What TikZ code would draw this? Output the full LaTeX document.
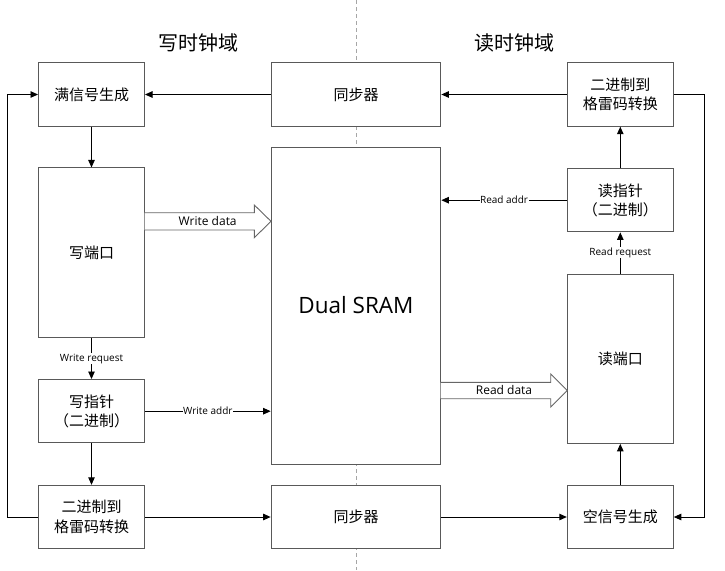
\documentclass[tikz,border=0pt]{standalone}
\usepackage{fontspec}
\setmainfont{Open Sans}
\newfontfamily\cjk{Noto Sans CJK SC}
\usetikzlibrary{arrows.meta}

\begin{document}
\begin{tikzpicture}[x=1pt, y=-1pt,
    box/.style={draw=black!65, line width=1pt, fill=white, inner sep=0pt, align=center,
        minimum width=106pt, minimum height=63.4pt, font=\cjk\fontsize{15}{19.5}\selectfont},
    wide/.style={box, minimum width=169.7pt},
    arr/.style={line width=0.9pt, -{Triangle[length=7.5pt, width=6.5pt]}},
    lbl/.style={fill=white, inner sep=0.5pt, font=\fontsize{10}{12}\selectfont},
    fat/.style={draw=black!60, line width=0.9pt, fill=white},
    title/.style={font=\cjk\fontsize{20}{24}\selectfont}]

    \useasboundingbox (0,0) rectangle (725,570);

    \draw[dash pattern=on 4pt off 3pt, black!35, line width=0.9pt] (356,0) -- (356,570);

    \node[title] (wclk) at (198,43) {写时钟域};
    \node[title] (rclk) at (514.5,43) {读时钟域};

    \node[box] (full) at (91.5,94.5) {满信号生成};
    \node[box, minimum height=169.7pt] (wport) at (91.5,252.8) {写端口};
    \node[box] (wptr) at (91.5,411.2) {写指针\\（二进制）};
    \node[box] (wgray) at (91.5,517) {二进制到\\格雷码转换};

    \node[wide] (sync1) at (356,94.5) {同步器};
    \node[wide, minimum height=317pt, font=\fontsize{22.5}{26}\selectfont] (sram) at (356,305.5) {Dual SRAM};
    \node[wide] (sync2) at (356,517) {同步器};

    \node[box] (rgray) at (620.3,94.5) {二进制到\\格雷码转换};
    \node[box] (rptr) at (620.3,200.2) {读指针\\（二进制）};
    \node[box, minimum height=169.3pt] (rport) at (620.3,358.7) {读端口};
    \node[box] (empty) at (620.3,517) {空信号生成};

    \coordinate (lloop) at (7,517);
    \coordinate (rloop) at (704.7,94.5);

    \draw[fat] (144.5,212.7) -- (254.3,212.7) -- (254.3,205) -- (271,221.3)
        -- (254.3,237.7) -- (254.3,230) -- (144.5,230);
    \node[font=\fontsize{12}{14}\selectfont, inner sep=0pt] (wdata) at (207.7,220.5) {Write data};

    \draw[fat] (440.7,382.3) -- (550.7,382.3) -- (550.7,374) -- (567.3,390.5)
        -- (550.7,407) -- (550.7,398.7) -- (440.7,398.7);
    \node[font=\fontsize{12}{14}\selectfont, inner sep=0pt] (rdata) at (504,389.7) {Read data};

    \draw[arr] (sync1) -- (full);
    \draw[arr] (rgray) -- (sync1);
    \draw[arr] (full) -- (wport);
    \draw[arr] (wport) -- node[lbl] {Write request} (wptr);
    \draw[arr] (wptr) -- (wgray);
    \draw[arr] (wptr) -- node[lbl] {Write addr} (sram.west |- wptr);

    \draw[arr] (wgray) -- (sync2);
    \draw[arr] (sync2) -- (empty);
    \draw[arr] (empty) -- (rport);
    \draw[arr] (rport) -- node[lbl] {Read request} (rptr);
    \draw[arr] (rptr) -- (rgray);
    \draw[arr] (rptr) -- node[lbl] {Read addr} (sram.east |- rptr);

    \draw[arr] (wgray) -- (lloop) |- (full);
    \draw[arr] (rgray) -- (rloop) |- (empty);

\end{tikzpicture}
\end{document}
